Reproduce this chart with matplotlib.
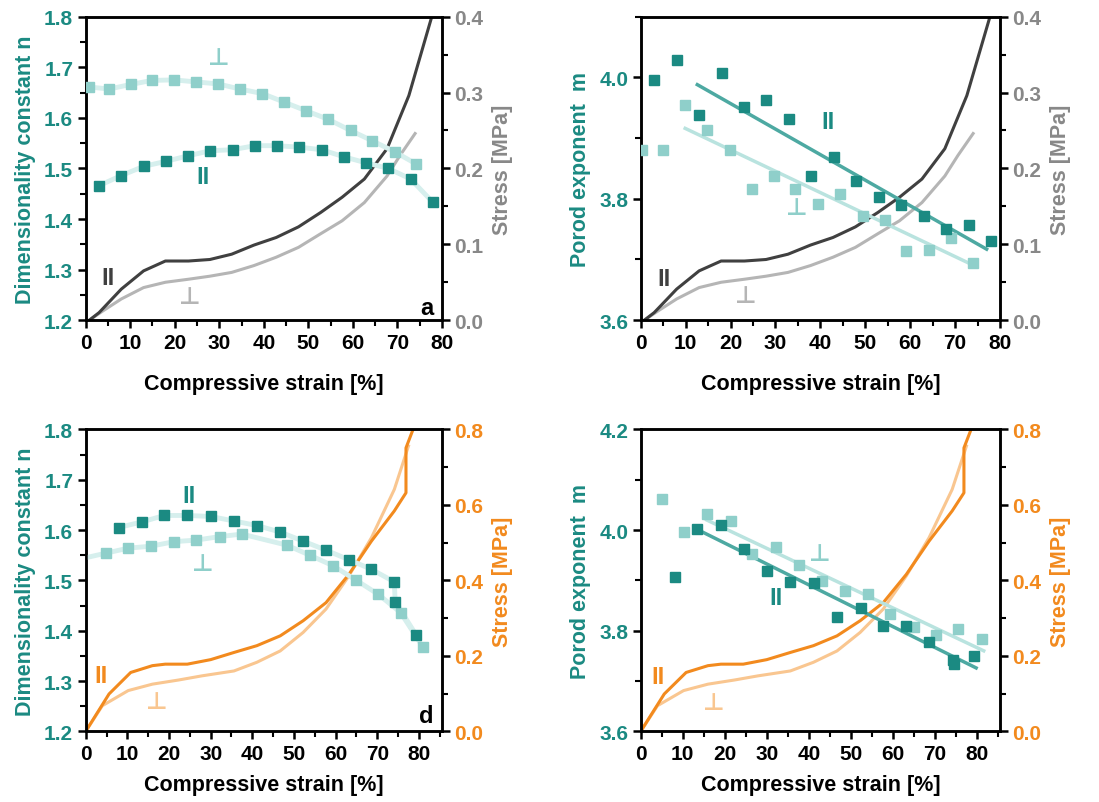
import matplotlib
matplotlib.use("Agg")
import matplotlib.pyplot as plt
from matplotlib.ticker import MultipleLocator

plt.rcParams['font.family'] = ['Liberation Sans', 'DejaVu Sans']
plt.rcParams['font.weight'] = 'bold'
plt.rcParams['axes.labelweight'] = 'bold'

# colours
TEAL = '#1b8a82'
TEAL_LIGHT = '#8fcfca'
TEAL_LINE = '#d6efed'
FIT_DARK = '#4da9a2'
FIT_LIGHT = '#b9e3df'
GRAY_DARK = '#404040'
GRAY_LIGHT = '#b5b5b5'
GRAY_TXT = '#888888'
ORANGE = '#f28a1e'
ORANGE_LIGHT = '#f9c690'

# ---- panel a: dimensionality constant n (sample 1)
strain_a_par = [3, 8, 13, 18, 23, 28, 33, 38, 43, 48, 53, 58, 63, 68, 73, 78]
n_a_par = [1.466, 1.486, 1.504, 1.514, 1.525, 1.535, 1.537, 1.545, 1.545, 1.542,
           1.537, 1.523, 1.511, 1.500, 1.479, 1.433]
strain_a_perp = [0.7, 5.3, 10.1, 14.9, 19.9, 24.8, 29.8, 34.6, 39.7, 44.6, 49.5,
                 54.5, 59.5, 64.3, 69.4, 74.2]
n_a_perp = [1.661, 1.657, 1.666, 1.674, 1.675, 1.671, 1.667, 1.657, 1.648, 1.631,
            1.614, 1.597, 1.575, 1.555, 1.533, 1.509]

# ---- panel b: porod exponent m (sample 1)
strain_b_par = [3, 8, 13, 18, 23, 28, 33, 38, 43, 48, 53, 58, 63, 68, 73, 78]
m_b_par = [3.995, 4.029, 3.938, 4.007, 3.952, 3.962, 3.931, 3.838, 3.869, 3.830,
           3.803, 3.790, 3.771, 3.750, 3.757, 3.730]
strain_b_perp = [0.3, 5.0, 9.9, 14.8, 19.8, 24.7, 29.6, 34.4, 39.5, 44.4, 49.4,
                 54.3, 59.1, 64.1, 69.1, 73.9]
m_b_perp = [3.880, 3.880, 3.955, 3.914, 3.880, 3.816, 3.838, 3.816, 3.791, 3.808,
            3.771, 3.765, 3.714, 3.716, 3.736, 3.694]
fit_b_par_x = [12.6, 77.0]
fit_b_par_y = [3.988, 3.717]
fit_b_perp_x = [9.9, 73.9]
fit_b_perp_y = [3.916, 3.691]

# ---- stress curves sample 1 (panels a, b)
strain_s1_par = [0.8, 3.0, 8.0, 13.0, 17.9, 23.1, 27.9, 32.8, 37.8, 42.8, 47.8,
                 52.8, 57.6, 62.6, 67.7, 72.6, 77.6]
stress_s1_par = [0.0, 0.010, 0.041, 0.065, 0.078, 0.078, 0.080, 0.087, 0.099,
                 0.109, 0.123, 0.142, 0.162, 0.186, 0.226, 0.296, 0.397]
strain_s1_perp = [0.8, 3.8, 8.0, 13.0, 17.9, 23.1, 27.9, 32.8, 37.8, 42.8, 47.8,
                  52.8, 57.6, 62.6, 67.7, 70.6, 74.0]
stress_s1_perp = [0.0, 0.012, 0.028, 0.043, 0.050, 0.054, 0.058, 0.063, 0.072,
                  0.083, 0.096, 0.114, 0.131, 0.155, 0.190, 0.217, 0.246]

# ---- panel c: dimensionality constant n (sample 2)
strain_c_par = [7.9, 13.4, 18.9, 24.4, 30.0, 35.6, 41.1, 46.7, 52.2, 57.7, 63.2,
                68.6, 74.1, 74.3, 79.3]
n_c_par = [1.605, 1.616, 1.629, 1.629, 1.627, 1.618, 1.609, 1.596, 1.578, 1.560,
           1.541, 1.522, 1.497, 1.458, 1.392]
strain_c_perp = [0.0, 4.8, 10.2, 15.7, 21.3, 26.5, 32.2, 37.5, 48.3, 53.8, 59.4,
                 64.8, 70.3, 75.6, 81.0]
n_c_perp = [1.545, 1.554, 1.564, 1.568, 1.577, 1.580, 1.587, 1.592, 1.570, 1.550,
            1.529, 1.501, 1.472, 1.436, 1.367]

# ---- panel d: porod exponent m (sample 2)
strain_d_par = [8.2, 13.5, 19.2, 24.6, 30.1, 35.6, 41.3, 46.6, 52.3, 57.7, 63.2,
                68.7, 74.2, 74.5, 79.4]
m_d_par = [3.906, 4.003, 4.011, 3.963, 3.919, 3.896, 3.894, 3.828, 3.846, 3.810,
           3.810, 3.777, 3.742, 3.733, 3.749]
strain_d_perp = [5.0, 10.3, 15.7, 21.4, 26.5, 32.1, 37.6, 43.2, 48.5, 54.0, 59.4,
                 65.0, 70.3, 75.6, 81.2]
m_d_perp = [4.061, 3.997, 4.031, 4.018, 3.952, 3.967, 3.931, 3.899, 3.878, 3.873,
            3.833, 3.807, 3.792, 3.803, 3.784]
fit_d_par_x = [13.5, 79.8]
fit_d_par_y = [4.001, 3.726]
fit_d_perp_x = [15.7, 81.6]
fit_d_perp_y = [4.020, 3.760]

# ---- stress curves sample 2 (panels c, d)
strain_s2_par = [0.0, 5.6, 10.8, 16.0, 19.1, 24.4, 30.0, 35.6, 41.1, 46.7, 52.2,
                 57.7, 63.2, 68.6, 74.1, 76.9, 76.9, 78.6]
stress_s2_par = [0.0, 0.099, 0.156, 0.174, 0.178, 0.178, 0.190, 0.209, 0.227,
                 0.253, 0.293, 0.341, 0.416, 0.504, 0.584, 0.632, 0.751, 0.800]
strain_s2_perp = [0.0, 4.0, 10.2, 16.0, 22.3, 27.9, 35.6, 41.1, 46.7, 52.2, 57.7,
                  63.2, 68.6, 74.1, 77.5]
stress_s2_perp = [0.0, 0.068, 0.108, 0.125, 0.136, 0.147, 0.160, 0.183, 0.213,
                  0.262, 0.324, 0.412, 0.513, 0.641, 0.756]

TICK_FS = 15
LABEL_FS = 15.5
PERP = '\u22a5'


def style_axes(ax, ax2, xmax, ylim, ymaj, ymin, smax, smaj, smin, ylabel, s_color,
               xpad):
    ax.set_xlim(0, xmax)
    ax.set_ylim(*ylim)
    ax2.set_ylim(0, smax)
    ax.xaxis.set_major_locator(MultipleLocator(10))
    ax.xaxis.set_minor_locator(MultipleLocator(5))
    ax.yaxis.set_major_locator(MultipleLocator(ymaj))
    ax.yaxis.set_minor_locator(MultipleLocator(ymin))
    ax2.yaxis.set_major_locator(MultipleLocator(smaj))
    ax2.yaxis.set_minor_locator(MultipleLocator(smin))
    ax.yaxis.set_major_formatter(plt.FormatStrFormatter('%.1f'))
    ax2.yaxis.set_major_formatter(plt.FormatStrFormatter('%.1f'))
    for a in (ax, ax2):
        for sp in a.spines.values():
            sp.set_linewidth(1.8)
        a.tick_params(which='major', direction='out', length=6, width=1.8,
                      labelsize=TICK_FS, pad=3)
        a.tick_params(which='minor', direction='out', length=4, width=1.5)
    ax.tick_params(axis='y', which='both', labelcolor=TEAL)
    ax2.tick_params(axis='y', which='both', labelcolor=s_color)
    ax.set_xlabel('Compressive strain [%]', fontsize=LABEL_FS, labelpad=xpad)
    ax.set_ylabel(ylabel, fontsize=LABEL_FS, color=TEAL, labelpad=6)
    ax2.set_ylabel('Stress [MPa]', fontsize=LABEL_FS, color=s_color, labelpad=6)


def plot_points(ax, x, y, color, every=None):
    ax.plot(x, y, '-', color=TEAL_LINE, lw=3.5, zorder=2)
    xs = x if every is None else x[every:]
    ys = y if every is None else y[every:]
    ax.plot(xs, ys, 's', color=color, ms=7, mec=color, zorder=3)


def label(ax, x, y, s, color):
    if s == PERP:
        ax.text(x, y, s, color=color, fontsize=17, ha='center', va='center',
                family='DejaVu Sans', fontweight='bold')
    else:
        ax.text(x, y, s, color=color, fontsize=17, ha='center', va='center')


fig = plt.figure(figsize=(10.99, 8.03), dpi=100)

pos_a = [0.078, 0.600, 0.324, 0.378]
pos_b = [0.583, 0.600, 0.327, 0.378]
pos_c = [0.078, 0.088, 0.324, 0.376]
pos_d = [0.583, 0.088, 0.327, 0.376]

# panel a
ax_a = fig.add_axes(pos_a)
ax_a2 = ax_a.twinx()
ax_a2.plot(strain_s1_perp, stress_s1_perp, color=GRAY_LIGHT, lw=2.2)
ax_a2.plot(strain_s1_par, stress_s1_par, color=GRAY_DARK, lw=2.2)
plot_points(ax_a, strain_a_perp, n_a_perp, TEAL_LIGHT)
plot_points(ax_a, strain_a_par, n_a_par, TEAL)
style_axes(ax_a, ax_a2, 80, (1.2, 1.8), 0.1, 0.05, 0.4, 0.1, 0.05,
           'Dimensionality constant n', GRAY_TXT, 15)
label(ax_a, 29.9, 1.72, PERP, TEAL_LIGHT)
label(ax_a, 26.3, 1.485, 'II', TEAL)
label(ax_a, 5.1, 1.285, 'II', GRAY_DARK)
label(ax_a, 23.4, 1.248, PERP, GRAY_LIGHT)
label(ax_a, 76.6, 1.226, 'a', 'black')

# panel b
ax_b = fig.add_axes(pos_b)
ax_b2 = ax_b.twinx()
ax_b2.plot(strain_s1_perp, stress_s1_perp, color=GRAY_LIGHT, lw=2.2)
ax_b2.plot(strain_s1_par, stress_s1_par, color=GRAY_DARK, lw=2.2)
ax_b.plot(fit_b_perp_x, fit_b_perp_y, color=FIT_LIGHT, lw=2.5, zorder=2)
ax_b.plot(fit_b_par_x, fit_b_par_y, color=FIT_DARK, lw=2.5, zorder=2)
ax_b.plot(strain_b_perp, m_b_perp, 's', color=TEAL_LIGHT, ms=7, zorder=3)
ax_b.plot(strain_b_par, m_b_par, 's', color=TEAL, ms=7, zorder=3)
style_axes(ax_b, ax_b2, 80, (3.6, 4.1), 0.2, 0.1, 0.4, 0.1, 0.05,
           'Porod exponent  m', GRAY_TXT, 15)
label(ax_b, 41.8, 3.927, 'II', TEAL)
label(ax_b, 34.8, 3.786, PERP, TEAL_LIGHT)
label(ax_b, 5.2, 3.669, 'II', GRAY_DARK)
label(ax_b, 23.3, 3.642, PERP, GRAY_LIGHT)

# panel c
ax_c = fig.add_axes(pos_c)
ax_c2 = ax_c.twinx()
ax_c2.plot(strain_s2_perp, stress_s2_perp, color=ORANGE_LIGHT, lw=2.2)
ax_c2.plot(strain_s2_par, stress_s2_par, color=ORANGE, lw=2.2)
plot_points(ax_c, strain_c_perp, n_c_perp, TEAL_LIGHT, every=1)
plot_points(ax_c, strain_c_par, n_c_par, TEAL)
style_axes(ax_c, ax_c2, 85.5, (1.2, 1.8), 0.1, 0.05, 0.8, 0.2, 0.1,
           'Dimensionality constant n', ORANGE, 8)
label(ax_c, 24.7, 1.668, 'II', TEAL)
label(ax_c, 28.1, 1.535, PERP, TEAL_LIGHT)
label(ax_c, 3.6, 1.31, 'II', ORANGE)
label(ax_c, 17.0, 1.261, PERP, ORANGE_LIGHT)
label(ax_c, 81.7, 1.231, 'd', 'black')

# panel d
ax_d = fig.add_axes(pos_d)
ax_d2 = ax_d.twinx()
ax_d2.plot(strain_s2_perp, stress_s2_perp, color=ORANGE_LIGHT, lw=2.2)
ax_d2.plot(strain_s2_par, stress_s2_par, color=ORANGE, lw=2.2)
ax_d.plot(fit_d_perp_x, fit_d_perp_y, color=FIT_LIGHT, lw=2.5, zorder=2)
ax_d.plot(fit_d_par_x, fit_d_par_y, color=FIT_DARK, lw=2.5, zorder=2)
ax_d.plot(strain_d_perp, m_d_perp, 's', color=TEAL_LIGHT, ms=7, zorder=3)
ax_d.plot(strain_d_par, m_d_par, 's', color=TEAL, ms=7, zorder=3)
style_axes(ax_d, ax_d2, 85.5, (3.6, 4.2), 0.2, 0.1, 0.8, 0.2, 0.1,
           'Porod exponent  m', ORANGE, 8)
label(ax_d, 42.6, 3.955, PERP, TEAL_LIGHT)
label(ax_d, 32.1, 3.866, 'II', TEAL)
label(ax_d, 4.0, 3.708, 'II', ORANGE)
label(ax_d, 17.3, 3.658, PERP, ORANGE_LIGHT)

# left-axis data in front of the stress curves
for a, a2 in ((ax_a, ax_a2), (ax_b, ax_b2), (ax_c, ax_c2), (ax_d, ax_d2)):
    a.set_zorder(a2.get_zorder() + 1)
    a.patch.set_visible(False)

fig.savefig('out.png', dpi=100)
